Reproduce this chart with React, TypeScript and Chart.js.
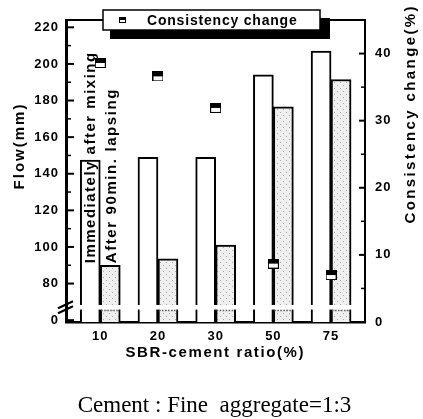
import React, { useEffect, useRef } from 'react';
import { Chart, registerables } from 'chart.js';

Chart.register(...registerables);

// ---- data ----
const categories = ['10', '20', '30', '50', '75'];
const flowImmediate = [147.5, 149, 149, 194, 207];
const flowAfter90 = [90, 93.5, 101, 176.5, 191.5];
const consistencyChange = [38.6, 36.6, 31.9, 8.7, 7.0];

// left axis has a break: the "0" label sits where value 60 would be
const flowTickValues = [60, 80, 100, 120, 140, 160, 180, 200, 220];
const flowTickLabels = ['0', '80', '100', '120', '140', '160', '180', '200', '220'];
const flowMinorTickValues = [90, 110, 130, 150, 170, 190, 210];
const consistencyTickValues = [0, 10, 20, 30, 40];
const consistencyMinorTickValues = [5, 15, 25, 35];

const FLOW_MIN = 59;
const FLOW_MAX = 224;
const CONS_MIN = 0;
const CONS_MAX = 45;
const X_MIN = -0.594;
const X_MAX = 4.588;
const BREAK_FROM = 65.8;
const BREAK_TO = 68.3;

const SANS = '"Liberation Sans", Arial, sans-serif';
const SERIF = '"Liberation Serif", "Times New Roman", serif';

function makeMarker(): HTMLCanvasElement {
  const c = document.createElement('canvas');
  c.width = 11;
  c.height = 10;
  const g = c.getContext('2d')!;
  g.fillStyle = '#000';
  g.fillRect(0, 0, 11, 10);
  g.fillStyle = '#fff';
  g.fillRect(1, 5, 9, 4);
  return c;
}

function makeStipple(ctx: CanvasRenderingContext2D): CanvasPattern | string {
  const c = document.createElement('canvas');
  c.width = 6;
  c.height = 6;
  const g = c.getContext('2d')!;
  g.fillStyle = '#efefef';
  g.fillRect(0, 0, 6, 6);
  g.fillStyle = '#a8a8a8';
  g.fillRect(1, 1, 1, 1);
  g.fillRect(4, 4, 1, 1);
  return ctx.createPattern(c, 'repeat') || '#eee';
}

function spacedText(
  ctx: CanvasRenderingContext2D,
  text: string,
  x: number,
  y: number,
  font: string,
  spacing: number,
  align: CanvasTextAlign,
  rotate: number
) {
  ctx.save();
  ctx.translate(x, y);
  if (rotate) ctx.rotate(rotate);
  ctx.font = font;
  (ctx as any).letterSpacing = spacing + 'px';
  ctx.textAlign = align;
  ctx.textBaseline = 'middle';
  ctx.fillStyle = '#000';
  const dx = align === 'center' ? spacing / 2 : 0;
  ctx.fillText(text, dx, 0);
  ctx.restore();
}

const decorPlugin = {
  id: 'decor',
  beforeDraw(chart: any) {
    chart.ctx.letterSpacing = '1px';
  },
  afterDatasetsDraw(chart: any) {
    const { ctx, chartArea: a, scales } = chart;
    const y = scales.y;
    const yTop = y.getPixelForValue(BREAK_TO);
    const yBot = y.getPixelForValue(BREAK_FROM);
    ctx.save();
    (ctx as any).letterSpacing = '0px';
    ctx.fillStyle = '#fff';
    ctx.fillRect(a.left + 2, yTop, a.right - a.left - 3.5, yBot - yTop);
    // dotted top edge of the lower part of the grey bars
    ctx.strokeStyle = '#666';
    ctx.lineWidth = 1.5;
    ctx.setLineDash([1.5, 1.5]);
    chart.getDatasetMeta(2).data.forEach((bar: any) => {
      const { x, width } = bar.getProps(['x', 'width'], true);
      ctx.beginPath();
      ctx.moveTo(x - width / 2 + 1, yBot + 1);
      ctx.lineTo(x + width / 2 - 1, yBot + 1);
      ctx.stroke();
    });
    ctx.restore();
  },
  afterDraw(chart: any) {
    const { ctx, chartArea: a, scales } = chart;
    const y = scales.y;
    const y2 = scales.y2;
    ctx.save();
    (ctx as any).letterSpacing = '0px';
    ctx.strokeStyle = '#000';
    ctx.fillStyle = '#000';
    ctx.setLineDash([]);

    const hline = (x1: number, x2: number, py: number, w: number) => {
      ctx.lineWidth = w;
      ctx.beginPath();
      ctx.moveTo(x1, py);
      ctx.lineTo(x2, py);
      ctx.stroke();
    };

    // top frame
    hline(a.left - 1, a.right + 1, a.top, 2);

    // inward tick marks
    flowTickValues.forEach((v) => hline(a.left, a.left + 8, y.getPixelForValue(v), 2));
    flowMinorTickValues.forEach((v) => hline(a.left, a.left + 5, y.getPixelForValue(v), 1.5));
    consistencyTickValues.forEach((v) => hline(a.right - 6, a.right, y2.getPixelForValue(v), 2));
    consistencyMinorTickValues.forEach((v) => hline(a.right - 4, a.right, y2.getPixelForValue(v), 1.5));

    // axis break mark
    const yb = (y.getPixelForValue(BREAK_TO) + y.getPixelForValue(BREAK_FROM)) / 2;
    ctx.lineWidth = 2;
    ctx.beginPath();
    ctx.moveTo(a.left - 8, yb + 1);
    ctx.lineTo(a.left + 7, yb - 6);
    ctx.moveTo(a.left - 8, yb + 6);
    ctx.lineTo(a.left + 7, yb - 1);
    ctx.stroke();

    // vertical labels for the bar series
    const white0 = chart.getDatasetMeta(1).data[0];
    const grey0 = chart.getDatasetMeta(2).data[0];
    const start = grey0.y - 2;
    const f15 = `bold 15px ${SANS}`;
    spacedText(ctx, 'Immediately after mixing', white0.x + 1, start, f15, 1.5, 'left', -Math.PI / 2);
    spacedText(ctx, 'After 90min. lapsing', grey0.x + 1.5, start, f15, 1.6, 'left', -Math.PI / 2);

    // axis titles
    spacedText(ctx, 'Flow(mm)', 20, 147, f15, 2, 'center', -Math.PI / 2);
    spacedText(ctx, 'Consistency change(%)', 411, 115, f15, 2.4, 'center', -Math.PI / 2);
    spacedText(ctx, 'SBR-cement ratio(%)', (a.left + a.right) / 2 - 1, 353, f15, 1.6, 'center', 0);

    // legend with shadow
    const lx = a.left + 37;
    const ly = a.top - 10;
    ctx.fillStyle = '#000';
    ctx.fillRect(lx + 7, ly + 8, 220, 21);
    ctx.fillStyle = '#fff';
    ctx.fillRect(lx, ly, 217, 20);
    ctx.lineWidth = 1.5;
    ctx.strokeStyle = '#000';
    ctx.strokeRect(lx, ly, 217, 20);
    ctx.fillStyle = '#000';
    ctx.fillRect(lx + 16, ly + 7, 7, 6);
    ctx.fillStyle = '#fff';
    ctx.fillRect(lx + 17, ly + 10, 5, 2);
    spacedText(ctx, 'Consistency change', lx + 44, ly + 11, `bold 14px ${SANS}`, 0.8, 'left', 0);

    // caption
    ctx.font = `23px ${SERIF}`;
    (ctx as any).letterSpacing = '0px';
    ctx.textAlign = 'center';
    ctx.textBaseline = 'alphabetic';
    ctx.fillStyle = '#000';
    ctx.fillText('Cement : Fine  aggregate=1:3', 214.5, 412);

    ctx.restore();
    (ctx as any).letterSpacing = '0px';
  },
};

export default function App() {
  const ref = useRef<HTMLCanvasElement>(null);

  useEffect(() => {
    const canvas = ref.current!;
    const ctx = canvas.getContext('2d')!;
    const marker = makeMarker();
    const stipple = makeStipple(ctx);
    const tickFont = { family: SANS, size: 13, weight: 'bold' as const };

    const chart = new Chart(canvas, {
      type: 'bar',
      data: {
        datasets: [
          {
            type: 'line',
            label: 'Consistency change',
            data: consistencyChange.map((v, i) => ({ x: i, y: v })),
            yAxisID: 'y2',
            xAxisID: 'x',
            showLine: false,
            pointStyle: marker,
            pointRadius: 5,
            order: 0,
          } as any,
          {
            type: 'bar',
            label: 'Immediately after mixing',
            data: flowImmediate.map((v, i) => ({ x: i, y: v })),
            yAxisID: 'y',
            xAxisID: 'x',
            backgroundColor: '#ffffff',
            borderColor: '#000000',
            borderWidth: 2,
            barThickness: 20,
            order: 1,
          },
          {
            type: 'bar',
            label: 'After 90min. lapsing',
            data: flowAfter90.map((v, i) => ({ x: i, y: v })),
            yAxisID: 'y',
            xAxisID: 'x',
            backgroundColor: stipple as any,
            borderColor: '#000000',
            borderWidth: 2,
            barThickness: 20,
            order: 2,
          },
        ],
      },
      options: {
        responsive: false,
        animation: false,
        devicePixelRatio: 1,
        layout: { padding: { top: 20, left: 0, right: 0, bottom: 0 } },
        plugins: {
          legend: { display: false },
          tooltip: { enabled: false },
          title: { display: false },
        },
        scales: {
          x: {
            type: 'linear',
            position: 'bottom',
            min: X_MIN,
            max: X_MAX,
            offset: false,
            grid: { display: false, drawTicks: false },
            border: { display: true, width: 2.5, color: '#000' },
            afterBuildTicks: (s: any) => {
              s.ticks = categories.map((_, i) => ({ value: i }));
            },
            ticks: {
              autoSkip: false,
              maxRotation: 0,
              padding: 7,
              color: '#000',
              font: tickFont,
              callback: (v: any) => categories[v] ?? '',
            },
            afterFit: (s: any) => {
              s.height = 97;
            },
          },
          y: {
            type: 'linear',
            position: 'left',
            min: FLOW_MIN,
            max: FLOW_MAX,
            grid: { display: false, drawTicks: false },
            border: { display: true, width: 3, color: '#000' },
            afterBuildTicks: (s: any) => {
              s.ticks = flowTickValues.map((v) => ({ value: v }));
            },
            ticks: {
              autoSkip: false,
              padding: 7,
              color: '#000',
              font: tickFont,
              callback: (v: any) => {
                const i = flowTickValues.indexOf(v);
                return i >= 0 ? flowTickLabels[i] : '';
              },
            },
            afterFit: (s: any) => {
              s.width = 66;
            },
          },
          y2: {
            type: 'linear',
            position: 'right',
            min: CONS_MIN,
            max: CONS_MAX,
            grid: { display: false, drawTicks: false },
            border: { display: true, width: 2, color: '#000' },
            afterBuildTicks: (s: any) => {
              s.ticks = consistencyTickValues.map((v) => ({ value: v }));
            },
            ticks: {
              autoSkip: false,
              padding: 10,
              color: '#000',
              font: tickFont,
              callback: (v: any) => String(v),
            },
            afterFit: (s: any) => {
              s.width = 58;
            },
          },
        },
      } as any,
      plugins: [decorPlugin],
    });

    return () => chart.destroy();
  }, []);

  return (
    <div style={{ position: 'fixed', left: 0, top: 0, width: 423, height: 419, background: '#fff' }}>
      <canvas ref={ref} width={423} height={419} style={{ display: 'block', width: 423, height: 419 }} />
    </div>
  );
}
